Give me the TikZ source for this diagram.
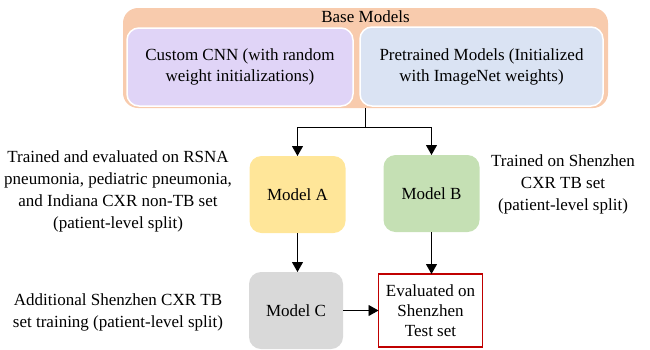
\documentclass[tikz,border=0pt]{standalone}
\usepackage{fontspec}
\setmainfont{Liberation Serif}
\usetikzlibrary{positioning, arrows.meta}
\definecolor{peach}{HTML}{F8CBAD}
\definecolor{lavender}{HTML}{E0D4F7}
\definecolor{paleblue}{HTML}{DAE3F3}
\definecolor{paleyellow}{HTML}{FFE699}
\definecolor{palegreen}{HTML}{C5E0B4}
\definecolor{palegray}{HTML}{D9D9D9}
\definecolor{darkred}{HTML}{C00000}

\begin{document}
\begin{tikzpicture}[x=1pt,y=-1pt,
  font=\fontsize{17}{21}\selectfont,
  inner/.style={draw=white,line width=1.5pt,rounded corners=12pt,align=center,outer sep=0pt},
  modelbox/.style={rounded corners=12pt,minimum width=96pt,minimum height=77pt,align=center,outer sep=0pt},
  note/.style={align=center,font=\fontsize{17}{22}\selectfont},
  link/.style={line width=0.9pt,-{Triangle[length=10pt,width=11pt]}}]
\useasboundingbox (0,0) rectangle (650,349);
% base models group
\node[fill=peach,rounded corners=15pt,minimum width=485pt,minimum height=100pt,outer sep=0pt](base) at (365.5,58){};
\node(basetitle) at (365.5,17){Base Models};
\node[inner,fill=lavender,minimum width=226pt,minimum height=78pt](cnn) at (240,67){Custom CNN (with random\\weight initializations)};
\node[inner,fill=paleblue,minimum width=243pt,minimum height=79pt](pre) at (481.5,66.5){Pretrained Models (Initialized\\with ImageNet weights)};
% models
\node[modelbox,fill=paleyellow](ma) at (297.5,194.5){Model A};
\node[modelbox,fill=palegreen](mb) at (431.5,193.5){Model B};
\node[modelbox,fill=palegray,minimum width=94pt](mc) at (296,310.5){Model C};
\node[draw=darkred,line width=1.3pt,minimum width=104pt,minimum height=73pt,align=center,outer sep=0pt,font=\fontsize{17}{20}\selectfont](eval) at (430.5,310.5){Evaluated on\\Shenzhen\\Test set};
% notes
\node[note](notea) at (118,191.5){Trained and evaluated on RSNA\\pneumonia, pediatric pneumonia,\\and Indiana CXR non-TB set\\(patient-level split)};
\node[note](noteb) at (563,184){Trained on Shenzhen\\CXR TB set\\(patient-level split)};
\node[note](notec) at (118,312){Additional Shenzhen CXR TB\\set training (patient-level split)};
% connectors
\coordinate (split) at (365.5,127);
\draw[line width=0.9pt] (base.south) -- (split);
\draw[link] (split) -| (ma.north);
\draw[link] (split) -| (mb.north);
\draw[link] (ma.south) -- (ma.south |- mc.north);
\draw[link] (mb.south) -- (mb.south |- eval.north);
\draw[link] (mc.east) -- (eval.west);
\end{tikzpicture}
\end{document}
